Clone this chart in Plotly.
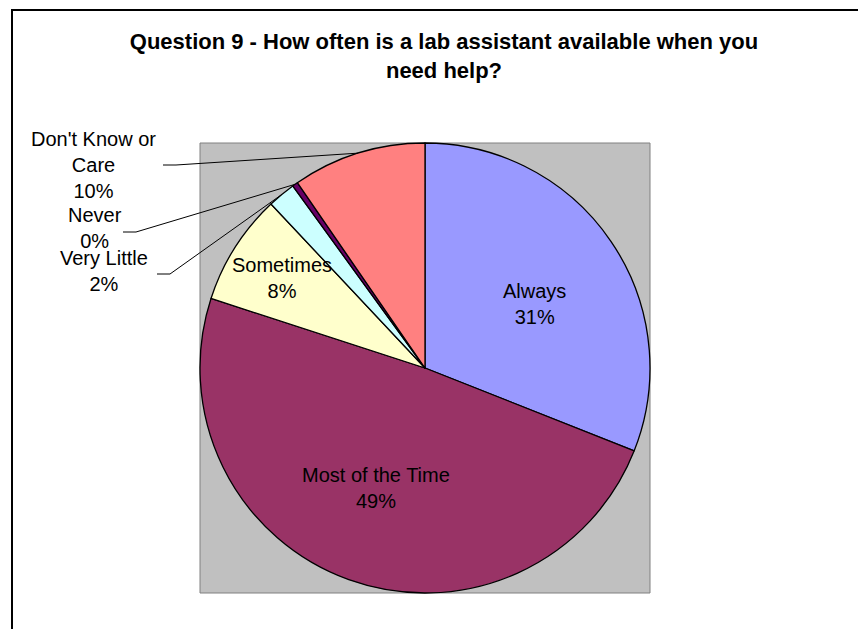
import math
import plotly.graph_objects as go

labels = ["Always", "Most of the Time", "Sometimes", "Very Little", "Never", "Don't Know or Care"]
values = [31, 49, 8, 2, 0.4, 9.6]
colors = ["#9999FF", "#993366", "#FFFFCC", "#CCFFFF", "#660066", "#FF8080"]
title = "Question 9 - How often is a lab assistant available when you<br>need help?"

W, H = 866, 629
OFF = 8  # page body margin
# gray plot area in screen pixels, pie fills it
PX0, PX1, PY0, PY1 = 200, 650, 143, 593
FONT = "Liberation Sans, Arial, sans-serif"


def px(x):
    return (x - OFF) / W


def py(y):
    return 1 - (y - OFF) / H


total = sum(values)
pct = [f"{round(v / total * 100)}%" for v in values]

fig = go.Figure(go.Pie(
    labels=labels,
    values=values,
    sort=False,
    direction="clockwise",
    rotation=0,
    marker=dict(colors=colors, line=dict(color="black", width=1.3)),
    textinfo="none",
    domain=dict(x=[px(PX0), px(PX1)], y=[py(PY1), py(PY0)]),
    hoverinfo="label+percent",
))

# label placement: (text, centre x, centre y, leader start or None)
label_pos = {
    0: ("Always", 534, 304, None),
    1: ("Most of the Time", 376, 488, None),
    2: ("Sometimes", 282, 278, None),
    3: ("Very Little", 104, 271, (157, 274)),
    4: ("Never", 95, 228, (123, 232)),
    5: ("Don't Know or<br>Care", 93, 165, (163, 165)),
}
cx, cy = (PX0 + PX1) / 2, (PY0 + PY1) / 2
R = (PX1 - PX0) / 2
starts = [sum(values[:i]) / total for i in range(len(values))]

shapes = [
    dict(type="rect", xref="paper", yref="paper", layer="below",
         x0=px(PX0), x1=px(PX1), y0=py(PY1), y1=py(PY0),
         fillcolor="#C0C0C0", line=dict(color="#808080", width=1)),
    dict(type="rect", xref="paper", yref="paper", layer="below",
         x0=px(12), x1=1.05, y0=-0.05, y1=py(10),
         line=dict(color="black", width=2)),
]
annotations = []
for i, (txt, tx, ty, lead) in label_pos.items():
    if lead:
        mid = starts[i] + values[i] / total / 2
        th = 2 * math.pi * mid
        ex, ey = cx + R * math.sin(th), cy - R * math.cos(th)
        sx, sy = lead
        path = f"M {px(sx)} {py(sy)} L {px(sx + 13)} {py(sy)} L {px(ex)} {py(ey)}"
        shapes.append(dict(type="path", xref="paper", yref="paper", path=path,
                           line=dict(color="black", width=1)))
    annotations.append(dict(text=f"{txt}<br>{pct[i]}", x=px(tx), y=py(ty),
                            xref="paper", yref="paper", xanchor="center", yanchor="middle",
                            showarrow=False, font=dict(family=FONT, size=20, color="black")))

fig.update_layout(
    width=W, height=H,
    margin=dict(l=0, r=0, t=0, b=0),
    paper_bgcolor="white",
    showlegend=False,
    title=dict(text=f"<b>{title}</b>", x=px(444), xanchor="center", y=py(49), yanchor="middle",
               font=dict(family=FONT, size=22, color="black")),
    shapes=shapes,
    annotations=annotations,
)

fig.write_html("out.html")
